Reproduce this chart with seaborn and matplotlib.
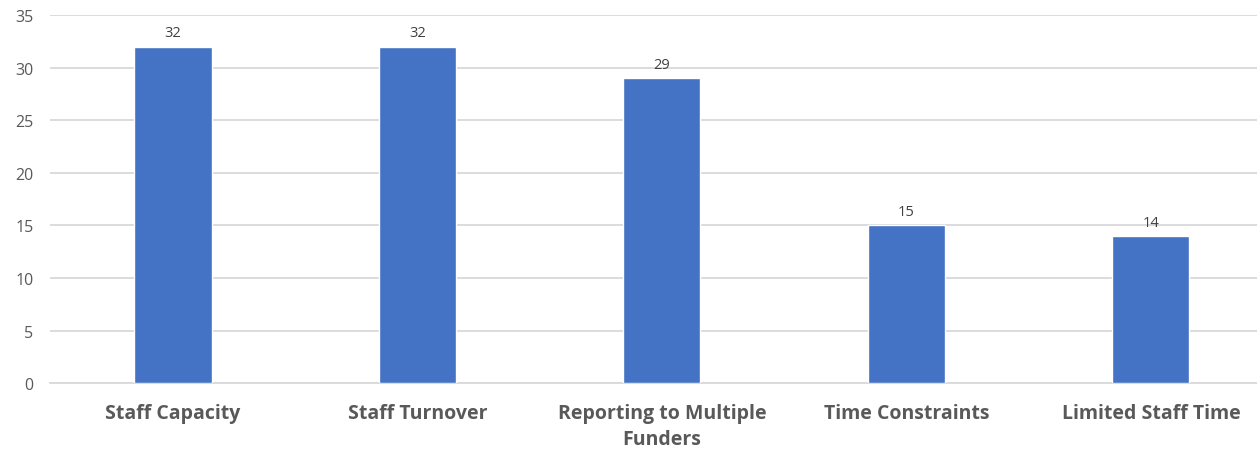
import seaborn as sns
import matplotlib.pyplot as plt
import pandas as pd

# Données
categories = ["Staff Capacity", "Staff Turnover", "Reporting to Multiple\nFunders",
              "Time Constraints", "Limited Staff Time"]
valeurs = [32, 32, 29, 15, 14]
y_ticks = [0, 5, 10, 15, 20, 25, 30, 35]

df = pd.DataFrame({"categorie": categories, "valeur": valeurs})

sns.set_style("white")
plt.rcParams['font.family'] = ['Open Sans', 'DejaVu Sans']

fig = plt.figure(figsize=(12.57, 4.52), dpi=100)
ax = fig.add_axes([0.0398, 0.150, 0.9602, 0.8146])

sns.barplot(data=df, x="categorie", y="valeur", color="#4472C4", width=0.315,
            saturation=1, ax=ax, zorder=3)

for i, v in enumerate(valeurs):
    ax.text(i, v + 0.6, str(v), ha='center', va='bottom', fontsize=10.5, color='#404040')

ax.set_ylim(0, 35)
ax.set_xlim(-0.503, 4.434)
ax.set_yticks(y_ticks)
ax.yaxis.grid(True, color='#D9D9D9', linewidth=1.3, zorder=0)
ax.set_axisbelow(True)
for s in ['top', 'right', 'left']:
    ax.spines[s].set_visible(False)
ax.spines['bottom'].set_color('#D9D9D9')
ax.spines['bottom'].set_linewidth(1.3)
ax.tick_params(axis='y', length=0, labelsize=11.5, labelcolor='#595959', pad=12)
ax.tick_params(axis='x', length=0, labelsize=14, labelcolor='#595959', pad=14)
for lab in ax.get_xticklabels():
    lab.set_fontweight('bold')
    lab.set_linespacing(1.45)
ax.set_xlabel("")
ax.set_ylabel("")

plt.savefig("out.png", dpi=100)
